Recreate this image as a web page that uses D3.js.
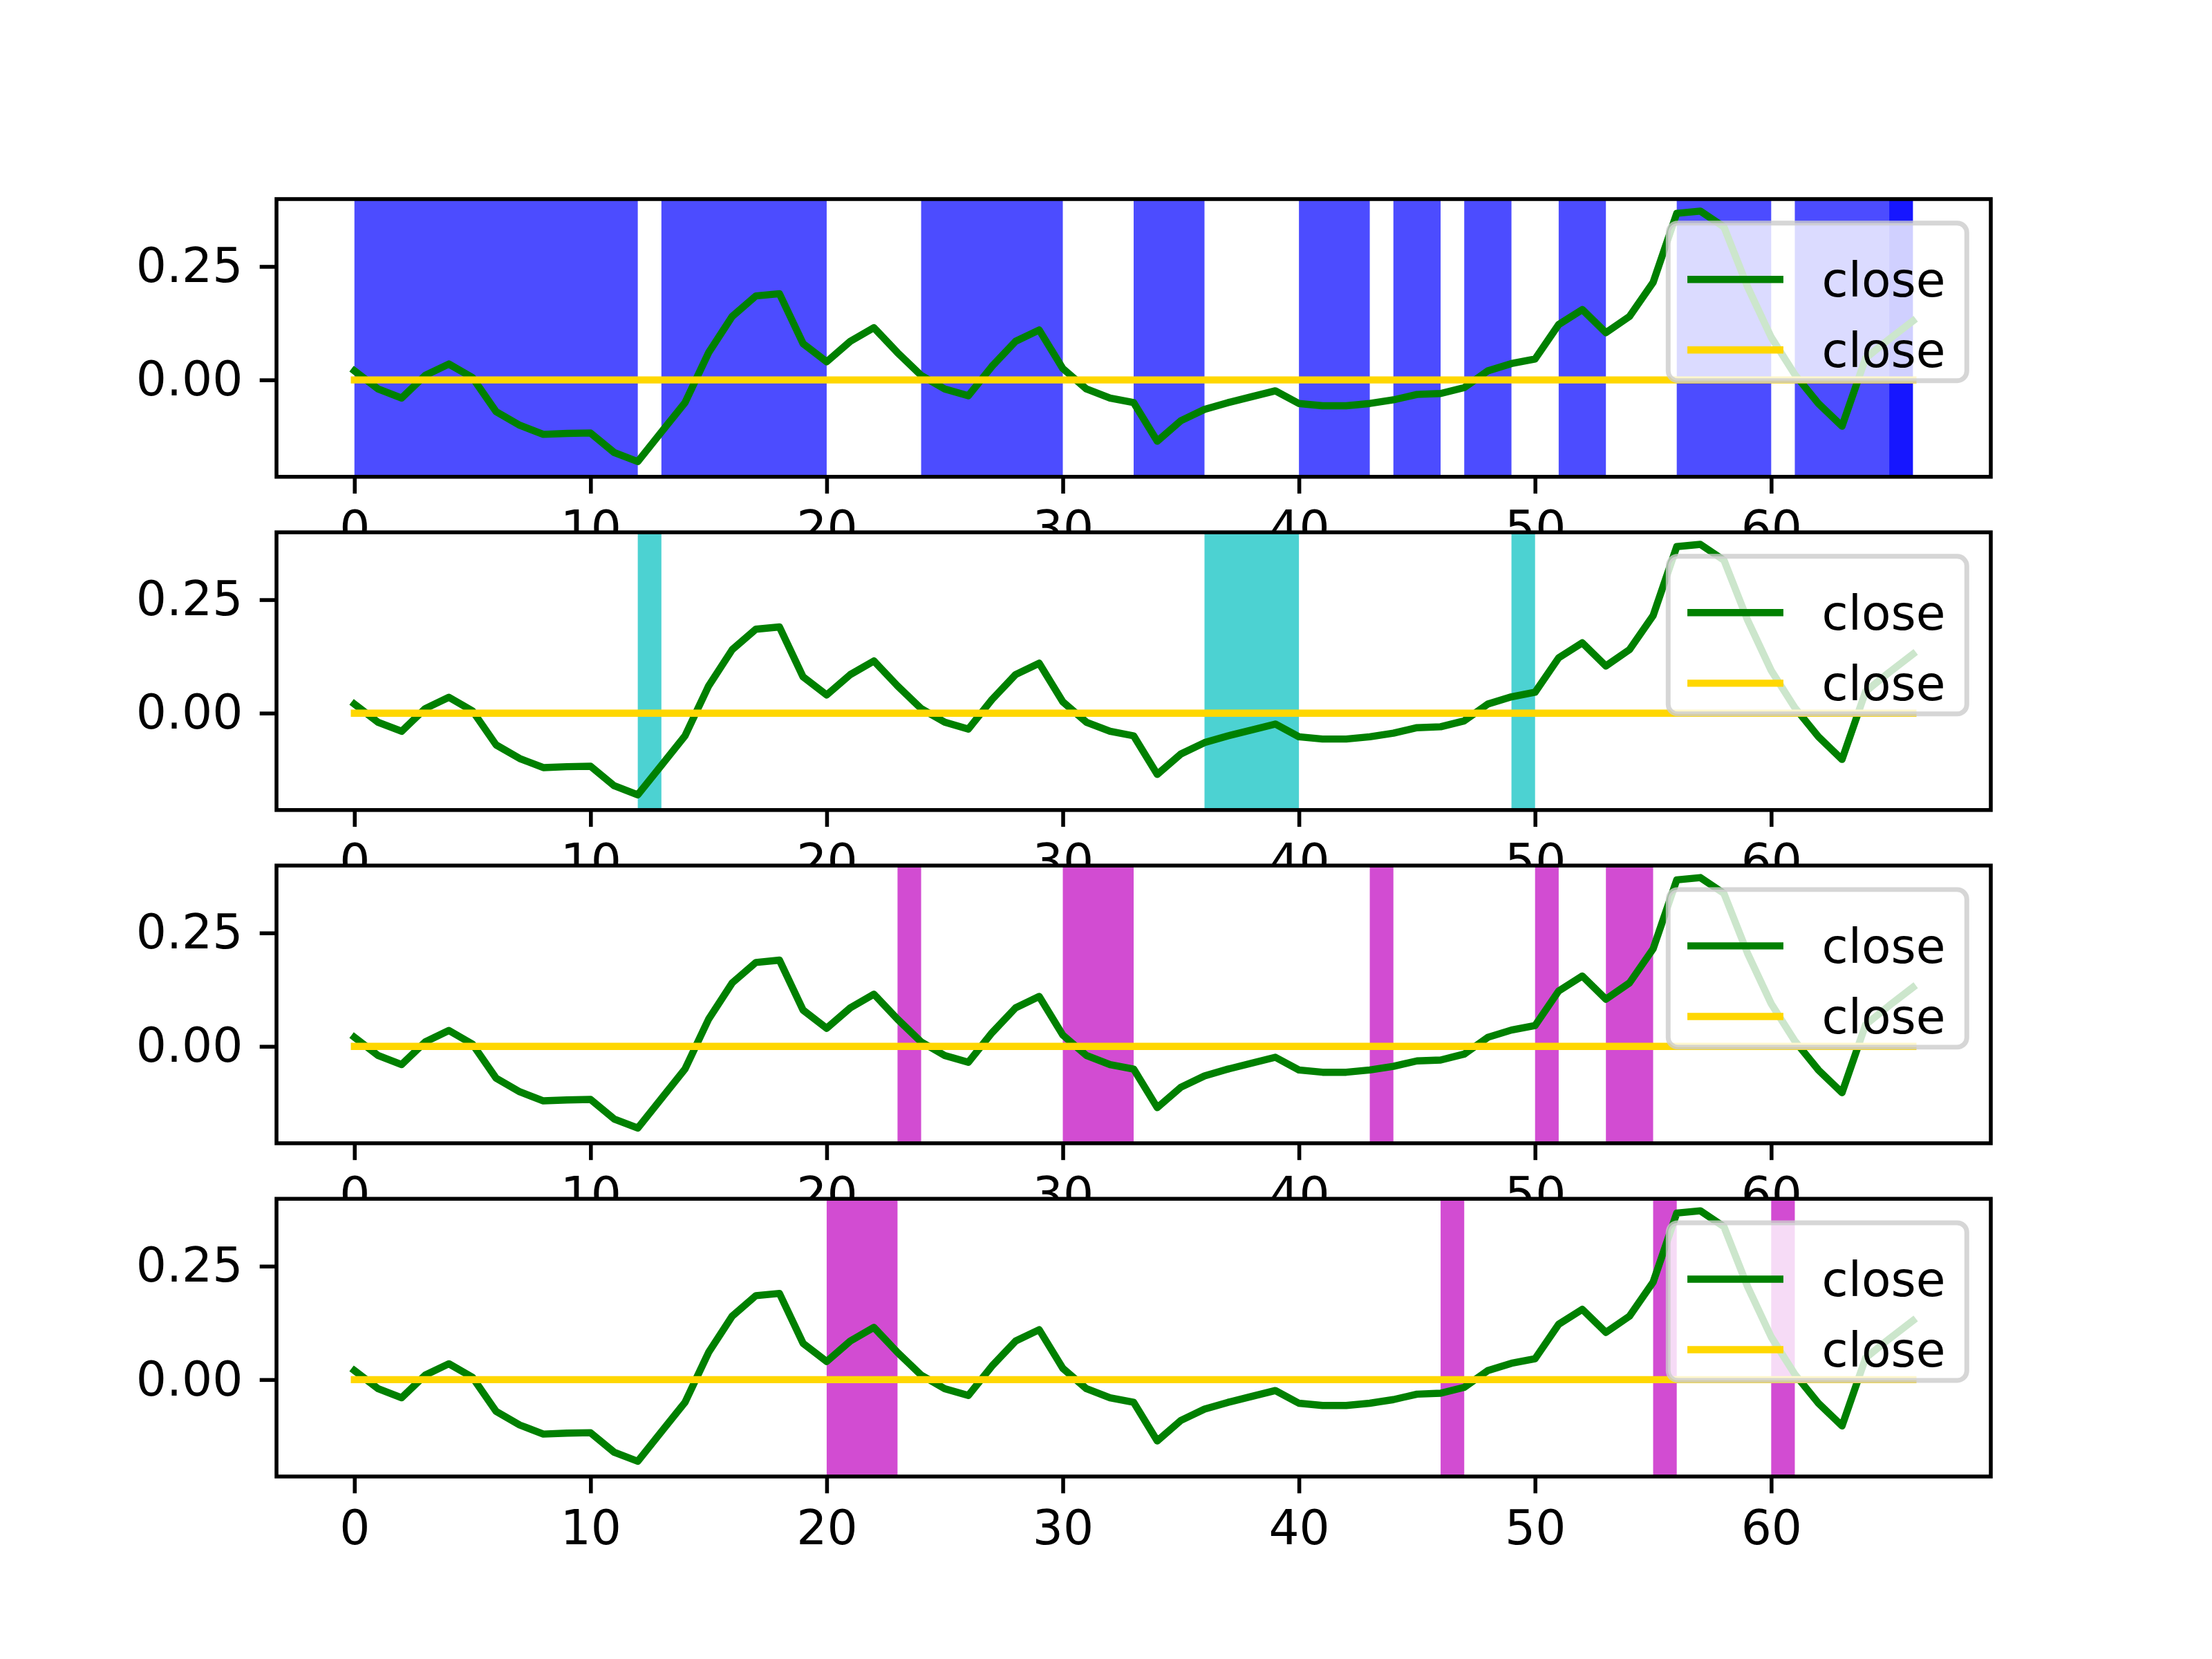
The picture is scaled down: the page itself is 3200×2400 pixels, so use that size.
<!DOCTYPE html>
<html><head><meta charset="utf-8">
<script src="https://cdn.jsdelivr.net/npm/d3@7"></script>
<style>body{margin:0;background:#fff}</style>
</head><body>
<script>
// closing values, one per step 0..66
const closeValues = [0.02,-0.02,-0.04,0.01,0.035,0.005,-0.07,-0.10,-0.12,-0.118,-0.117,-0.16,-0.18,-0.115,-0.05,0.06,0.14,0.185,0.19,0.08,
  0.04,0.085,0.115,0.06,0.01,-0.02,-0.035,0.03,0.085,0.11,0.025,-0.02,-0.04,-0.05,-0.135,-0.09,-0.065,-0.05,-0.037,-0.024,
  -0.052,-0.057,-0.057,-0.052,-0.044,-0.032,-0.03,-0.017,0.02,0.036,0.046,0.122,0.155,0.104,0.14,0.215,0.367,0.372,0.337,0.205,
  0.094,0.012,-0.052,-0.102,0.048,0.09,0.13];
const baseValues = closeValues.map(() => 0);
const xTicks = [0,10,20,30,40,50,60];
const yTicks = [0.25,0];
const legendLabels = ["close","close"];
// shaded spans [start,end] for each panel
const spans1 = [[0,12],[13,20],[24,30],[33,36],[40,43],[44,46],[47,49],[51,53],[56,60],[61,66],[65,66]];
const spans2 = [[12,13],[36,40],[49,50]];
const spans3 = [[23,24],[30,33],[43,44],[50,51],[53,55]];
const spans4 = [[20,23],[46,47],[55,56],[60,61]];
const panels = [
  {spans: spans1, color: "#0000ff"},
  {spans: spans2, color: "#00bfbf"},
  {spans: spans3, color: "#bf00bf"},
  {spans: spans4, color: "#bf00bf"}
];

const W = 3200, H = 2400, pt = 500/72;
const axLeft = 400, axRight = 2880, axTop = 288, axBottom = 2136;
const ph = (axBottom - axTop) / 4.6, gap = ph * 0.2;

const svg = d3.select("body").append("svg").attr("width", W).attr("height", H)
  .style("font-family", "DejaVu Sans");
svg.append("rect").attr("width", W).attr("height", H).attr("fill", "#fff");

const x = d3.scaleLinear().domain([-3.3, 69.3]).range([0, axRight - axLeft]);
const y = d3.scaleLinear().domain([-0.2135, 0.3985]).range([ph, 0]);
const line = d3.line().x((d, i) => x(i)).y(d => y(d));

panels.forEach((p, k) => {
  const g = svg.append("g").attr("transform", `translate(${axLeft},${axTop + k * (ph + gap)})`);
  g.append("rect").attr("width", axRight - axLeft).attr("height", ph).attr("fill", "#fff");
  const clip = "clip" + k;
  g.append("clipPath").attr("id", clip).append("rect").attr("width", axRight - axLeft).attr("height", ph);
  const inner = g.append("g").attr("clip-path", `url(#${clip})`);
  inner.selectAll(".span").data(p.spans).enter().append("rect")
    .attr("x", d => x(d[0])).attr("width", d => x(d[1]) - x(d[0]))
    .attr("y", 0).attr("height", ph)
    .attr("fill", p.color).attr("fill-opacity", 0.7);
  inner.append("path").datum(closeValues).attr("d", line)
    .attr("fill", "none").attr("stroke", "#008000").attr("stroke-width", 1.5 * pt)
    .attr("stroke-linejoin", "round").attr("stroke-linecap", "square");
  inner.append("path").datum(baseValues).attr("d", line)
    .attr("fill", "none").attr("stroke", "#ffd700").attr("stroke-width", 1.5 * pt)
    .attr("stroke-linecap", "square");

  const xa = g.append("g").attr("transform", `translate(0,${ph})`)
    .call(d3.axisBottom(x).tickValues(xTicks).tickSize(3.5 * pt).tickPadding(3.5 * pt).tickFormat(d3.format("d")));
  const ya = g.append("g")
    .call(d3.axisLeft(y).tickValues(yTicks).tickSize(3.5 * pt).tickPadding(3.5 * pt).tickFormat(d3.format(".2f")));
  [xa, ya].forEach(a => {
    a.select(".domain").remove();
    a.selectAll("line").attr("stroke", "#000").attr("stroke-width", 0.8 * pt);
    a.selectAll("text").attr("font-size", 10 * pt).attr("fill", "#000").attr("font-family", "DejaVu Sans");
  });
  g.append("rect").attr("width", axRight - axLeft).attr("height", ph)
    .attr("fill", "none").attr("stroke", "#000").attr("stroke-width", 0.8 * pt);

  // legend
  const fs = 10 * pt;
  const lw = 432, lh = 228;
  const lg = g.append("g").attr("transform", `translate(${axRight - axLeft - 0.5 * fs - lw},${0.5 * fs})`);
  lg.append("rect").attr("width", lw).attr("height", lh).attr("rx", 0.2 * fs)
    .attr("fill", "#fff").attr("fill-opacity", 0.8)
    .attr("stroke", "#cccccc").attr("stroke-opacity", 0.8).attr("stroke-width", pt);
  const colors = ["#008000", "#ffd700"];
  legendLabels.forEach((lab, i) => {
    const cy = 0.4 * fs + 0.5 * fs + 19 + i * 1.5 * fs * 0.98;
    lg.append("line").attr("x1", 0.4 * fs).attr("x2", 0.4 * fs + 2 * fs)
      .attr("y1", cy).attr("y2", cy).attr("stroke", colors[i]).attr("stroke-width", 1.5 * pt);
    lg.append("text").attr("x", 0.4 * fs + 2.8 * fs).attr("y", cy).attr("dy", "0.35em")
      .attr("font-size", fs).text(lab);
  });
});
</script>
</body></html>
